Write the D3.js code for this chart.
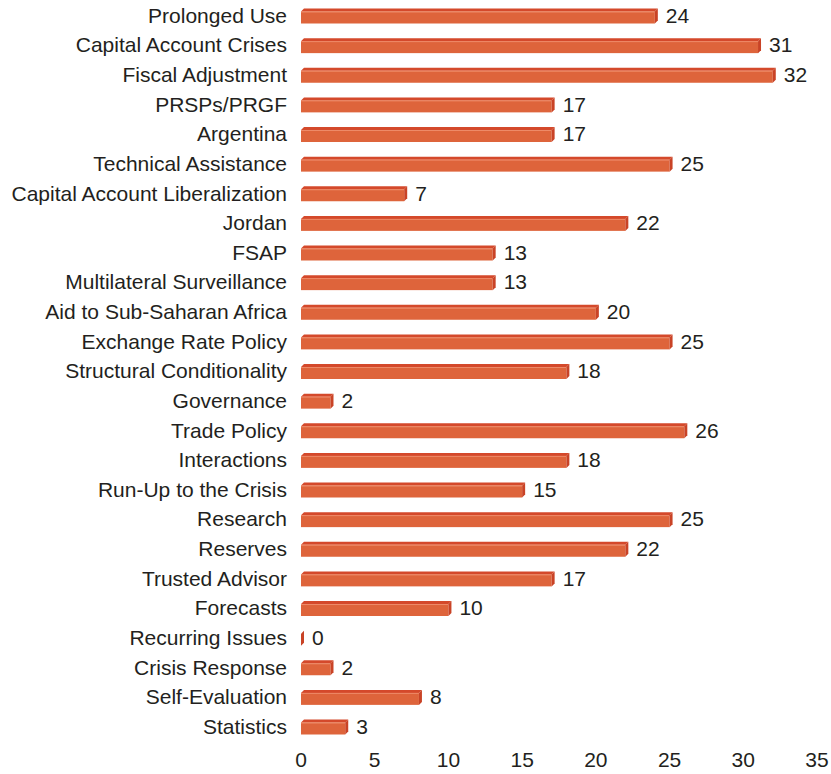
<!DOCTYPE html>
<html>
<head>
<meta charset="utf-8">
<script src="https://cdn.jsdelivr.net/npm/d3@7"></script>
<style>
  body { margin: 0; background: #fff; }
  text { font-family: "Liberation Sans", Arial, sans-serif; fill: #231f20; }
</style>
</head>
<body>
<div id="chart"></div>
<script>
const categories = [
  'Prolonged Use', 'Capital Account Crises', 'Fiscal Adjustment', 'PRSPs/PRGF', 'Argentina',
  'Technical Assistance', 'Capital Account Liberalization', 'Jordan', 'FSAP', 'Multilateral Surveillance',
  'Aid to Sub-Saharan Africa', 'Exchange Rate Policy', 'Structural Conditionality', 'Governance', 'Trade Policy',
  'Interactions', 'Run-Up to the Crisis', 'Research', 'Reserves', 'Trusted Advisor',
  'Forecasts', 'Recurring Issues', 'Crisis Response', 'Self-Evaluation', 'Statistics'
];
const values = [24, 31, 32, 17, 17, 25, 7, 22, 13, 13, 20, 25, 18, 2, 26, 18, 15, 25, 22, 17, 10, 0, 2, 8, 3];
const ticks = [0, 5, 10, 15, 20, 25, 30, 35];

const width = 831;
const height = 774;
const depth = 3;
const fontSize = '21px';

const svg = d3.select('#chart')
  .append('svg')
  .attr('width', width)
  .attr('height', height);

const x = d3.scaleLinear()
  .domain([0, 35])
  .range([301, 817]);

const y = d3.scalePoint()
  .domain(categories)
  .range([15.5, 726.5]);

const data = categories.map((c, i) => ({ name: c, value: values[i] }));

const bars = svg.append('g')
  .selectAll('g')
  .data(data)
  .join('g')
  .attr('transform', d => `translate(0,${y(d.name)})`);

// top face
bars.append('path')
  .attr('fill', '#d4492b')
  .attr('d', d => {
    const x0 = x(0), x1 = x(d.value);
    return `M${x0},-4 L${x0 + depth},${-4 - depth} L${x1 + depth},${-4 - depth} L${x1},-4 Z`;
  });

// front face
bars.append('rect')
  .attr('fill', '#de643b')
  .attr('x', x(0))
  .attr('y', -4)
  .attr('width', d => Math.max(0, x(d.value) - x(0)))
  .attr('height', 12);

// highlight edge
bars.append('line')
  .attr('stroke', '#ee8a68')
  .attr('stroke-width', 1)
  .attr('x1', x(0))
  .attr('x2', d => x(d.value))
  .attr('y1', -3.5)
  .attr('y2', -3.5);

// side face
bars.append('path')
  .attr('fill', '#c94326')
  .attr('d', d => {
    const x1 = x(d.value);
    return `M${x1},-4 L${x1 + depth},${-4 - depth} L${x1 + depth},${8 - depth} L${x1},8 Z`;
  });

// value labels
bars.append('text')
  .attr('x', d => x(d.value) + 11)
  .attr('y', 0)
  .attr('dy', '0.35em')
  .attr('font-size', fontSize)
  .text(d => d.value);

// category labels
svg.append('g')
  .selectAll('text')
  .data(categories)
  .join('text')
  .attr('x', 287)
  .attr('y', d => y(d))
  .attr('dy', '0.35em')
  .attr('text-anchor', 'end')
  .attr('font-size', fontSize)
  .text(d => d);

// x axis labels
svg.append('g')
  .selectAll('text')
  .data(ticks)
  .join('text')
  .attr('x', d => x(d))
  .attr('y', 760)
  .attr('dy', '0.35em')
  .attr('text-anchor', 'middle')
  .attr('font-size', fontSize)
  .text(d => d);
</script>
</body>
</html>
